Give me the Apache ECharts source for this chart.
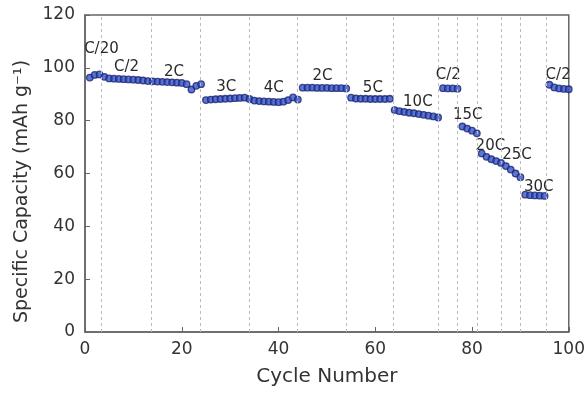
<!DOCTYPE html>
<html>
<head>
<meta charset="utf-8">
<script src="https://cdn.jsdelivr.net/npm/echarts@6/dist/echarts.min.js"></script>
<style>html,body{margin:0;padding:0;background:#fff}#c{width:588px;height:396px}</style>
</head>
<body>
<div id="c"></div>
<script>
var cycles = [1,2,3,4,5,6,7,8,9,10,11,12,13,14,15,16,17,18,19,20,
  21,22,23,24,25,26,27,28,29,30,31,32,33,34,35,36,37,38,39,40,
  41,42,43,44,45,46,47,48,49,50,51,52,53,54,55,56,57,58,59,60,
  61,62,63,64,65,66,67,68,69,70,71,72,73,74,75,76,77,78,79,80,
  81,82,83,84,85,86,87,88,89,90,91,92,93,94,95,96,97,98,99,100];
var capacity = [96.3,97.3,97.5,96.6,96.0,95.9,95.8,95.7,95.6,95.5,
  95.4,95.2,95.0,94.9,94.8,94.7,94.6,94.5,94.4,94.3,
  93.8,91.8,93.2,93.8,87.8,88.0,88.1,88.2,88.3,88.4,
  88.5,88.6,88.7,88.2,87.6,87.4,87.3,87.2,87.1,87.0,
  87.2,87.8,88.8,88.0,92.5,92.5,92.5,92.4,92.4,92.4,
  92.3,92.3,92.3,92.2,88.7,88.4,88.3,88.3,88.2,88.2,
  88.2,88.2,88.3,84.0,83.6,83.3,83.0,82.8,82.5,82.2,
  81.9,81.6,81.2,92.3,92.2,92.2,92.1,77.8,77.0,76.2,
  75.2,67.6,66.3,65.4,64.7,64.0,62.8,61.5,60.0,58.6,
  52.0,51.8,51.7,51.6,51.5,93.6,92.6,92.2,92.0,91.9];
var dividers = [3.4,13.7,23.8,34,43.8,53.9,63.8,73.1,77,81,86,89.9,95.4];
var rateLabels = ['C/20','C/2','2C','3C','4C','2C','5C','10C','C/2','15C','20C','25C','30C','C/2'];
var rateLabelX = [3.4,8.6,18.4,29.2,39,49.1,59.5,68.8,75.1,79.1,83.8,89.3,93.8,97.8];
var rateLabelY = [107.1,100.4,98.5,92.6,92.2,96.9,92.2,87.2,97.3,82.1,70.5,67.0,55.0,97.3];
var xTicks = [0,20,40,60,80,100];
var yTicks = [0,20,40,60,80,100,120];

var font = 'DejaVu Sans';
var pts = cycles.map(function(c,i){return [c, capacity[i]];});
var lbls = rateLabels.map(function(t,i){return {value:[rateLabelX[i], rateLabelY[i]], name:t};});
var chart = echarts.init(document.getElementById('c'), null, {renderer:'canvas'});
chart.setOption({
  animation:false,
  grid:{left:85,right:16,top:15,bottom:64,show:true,borderColor:'#666',borderWidth:1.5,backgroundColor:'transparent'},
  xAxis:{type:'value',min:xTicks[0],max:xTicks[xTicks.length-1],interval:20,
    name:'Cycle Number',nameLocation:'middle',nameGap:35,
    nameTextStyle:{fontFamily:font,fontSize:20,color:'#333'},
    axisLine:{lineStyle:{color:'#666',width:1.5}},
    axisTick:{inside:true,length:5,lineStyle:{color:'#666'}},
    axisLabel:{fontFamily:font,fontSize:17,color:'#333',margin:9},
    splitLine:{show:false}},
  yAxis:{type:'value',min:yTicks[0],max:yTicks[yTicks.length-1],interval:20,
    name:'Specific Capacity (mAh g\u207B\u00B9)',nameLocation:'middle',nameGap:53,
    nameTextStyle:{fontFamily:font,fontSize:19,color:'#333',padding:[0,36,0,0]},
    axisLine:{lineStyle:{color:'#666',width:1.5}},
    axisTick:{inside:true,length:5,lineStyle:{color:'#666'}},
    axisLabel:{fontFamily:font,fontSize:17,color:'#333',margin:10},
    splitLine:{show:false}},
  series:[
    {type:'scatter',data:pts,symbol:'circle',symbolSize:6.5,
     itemStyle:{color:'#3553c8',borderColor:'#1a2472',borderWidth:1.3},
     markLine:{silent:true,symbol:'none',label:{show:false},
       lineStyle:{color:'#bbb',type:[3,3],width:1},
       data:dividers.map(function(d){return {xAxis:d};})},
     z:3},
    {type:'scatter',data:lbls,symbolSize:0,silent:true,itemStyle:{opacity:1},
     label:{show:true,position:'inside',formatter:function(p){return p.name;},
       fontFamily:font,fontSize:15,color:'#2a2a2a',opacity:1},z:4}
  ]
});
</script>
</body>
</html>
